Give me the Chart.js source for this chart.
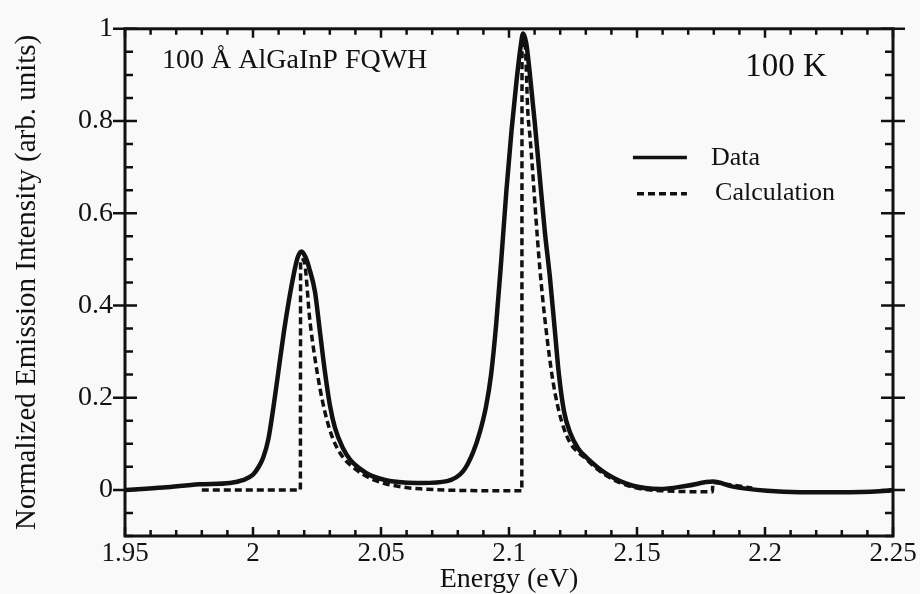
<!DOCTYPE html>
<html>
<head>
<meta charset="utf-8">
<script src="https://cdn.jsdelivr.net/npm/chart.js@4.4.1/dist/chart.umd.min.js"></script>
<style>
  html, body { margin: 0; padding: 0; background: #f8f9f8; }
</style>
</head>
<body>
<canvas id="chart" width="920" height="594"></canvas>
<script>
// Valeurs
const dataEnergy = [1.950, 1.965, 1.979, 1.991, 1.996, 2.000, 2.002, 2.004, 2.006, 2.008, 2.010, 2.012, 2.014, 2.016, 2.0175, 2.019, 2.0205, 2.022, 2.0242, 2.026, 2.028, 2.030, 2.032, 2.035, 2.038, 2.042, 2.0457, 2.052, 2.059, 2.066, 2.0758, 2.082, 2.086, 2.0887, 2.091, 2.093, 2.095, 2.097, 2.099, 2.101, 2.103, 2.1045, 2.1055, 2.1067, 2.108, 2.110, 2.112, 2.114, 2.116, 2.118, 2.1195, 2.1215, 2.1238, 2.127, 2.1305, 2.1383, 2.1484, 2.159, 2.1695, 2.1797, 2.1875, 2.2008, 2.2137, 2.2332, 2.2477, 2.250];
const dataIntensity = [0.000, 0.005, 0.012, 0.015, 0.021, 0.033, 0.048, 0.070, 0.110, 0.180, 0.260, 0.340, 0.410, 0.470, 0.505, 0.517, 0.505, 0.480, 0.430, 0.350, 0.260, 0.185, 0.135, 0.092, 0.065, 0.045, 0.032, 0.021, 0.016, 0.015, 0.019, 0.040, 0.082, 0.127, 0.180, 0.250, 0.360, 0.500, 0.650, 0.780, 0.890, 0.960, 0.990, 0.970, 0.910, 0.800, 0.680, 0.560, 0.460, 0.340, 0.250, 0.170, 0.125, 0.090, 0.069, 0.034, 0.009, 0.002, 0.009, 0.018, 0.007, -0.002, -0.005, -0.005, -0.002, 0.000];

const calcEnergy = [1.980, 2.0185, 2.0186, 2.0199, 2.0223, 2.0262, 2.030, 2.034, 2.040, 2.048, 2.0586, 2.066, 2.080, 2.105, 2.1051, 2.1062, 2.1074, 2.1082, 2.1121, 2.116, 2.1187, 2.1227, 2.1305, 2.1383, 2.1484, 2.160, 2.1795, 2.1796, 2.185, 2.195];
const calcIntensity = [0.000, 0.000, 0.500, 0.497, 0.363, 0.219, 0.130, 0.080, 0.045, 0.020, 0.006, 0.002, -0.001, -0.002, 0.975, 0.970, 0.815, 0.766, 0.477, 0.280, 0.190, 0.115, 0.065, 0.030, 0.006, -0.002, -0.004, 0.016, 0.012, 0.004];

const xTickValues = [1.95, 2, 2.05, 2.1, 2.15, 2.2, 2.25];
const xTickLabels = ['1.95', '2', '2.05', '2.1', '2.15', '2.2', '2.25'];
const yTickValues = [0, 0.2, 0.4, 0.6, 0.8, 1];
const yTickLabels = ['0', '0.2', '0.4', '0.6', '0.8', '1'];
const seriesNames = ['Data', 'Calculation'];

const serif = '"Liberation Serif", "Times New Roman", serif';
const ink = '#111';

function toPoints(xs, ys) {
    return xs.map((x, i) => ({ x: x, y: ys[i] }));
}

// cadre, graduations et légende
const framePlugin = {
    id: 'frame',
    afterDraw(chart) {
        const { ctx, chartArea: a, scales: { x, y } } = chart;
        ctx.save();
        ctx.strokeStyle = ink;
        ctx.lineWidth = 3;
        ctx.strokeRect(a.left, a.top, a.right - a.left, a.bottom - a.top);

        ctx.lineWidth = 2.5;
        ctx.beginPath();
        for (let i = 0; i <= 30; i++) {
            const px = x.getPixelForValue(1.95 + i * 0.01);
            const len = i % 5 === 0 ? 9 : 6;
            ctx.moveTo(px, a.bottom); ctx.lineTo(px, a.bottom - len);
            ctx.moveTo(px, a.top); ctx.lineTo(px, a.top + len);
        }
        for (let i = 0; i <= 22; i++) {
            const py = y.getPixelForValue(-0.1 + i * 0.05);
            if (i % 4 === 2) {
                ctx.moveTo(a.left - 12, py); ctx.lineTo(a.left + 12, py);
                ctx.moveTo(a.right - 12, py); ctx.lineTo(a.right + 12, py);
            } else {
                ctx.moveTo(a.left, py); ctx.lineTo(a.left + 8, py);
                ctx.moveTo(a.right, py); ctx.lineTo(a.right - 8, py);
            }
        }
        ctx.stroke();

        ctx.fillStyle = ink;
        ctx.textBaseline = 'alphabetic';
        ctx.font = '28px ' + serif;
        ctx.textAlign = 'left';
        ctx.fillText('100 Å AlGaInP FQWH', x.getPixelForValue(1.9645), y.getPixelForValue(0.916));
        ctx.font = '33px ' + serif;
        ctx.textAlign = 'right';
        ctx.fillText('100 K', x.getPixelForValue(2.2242), y.getPixelForValue(0.897));

        // légende
        ctx.lineWidth = 3.5;
        ctx.beginPath();
        ctx.moveTo(x.getPixelForValue(2.1484), y.getPixelForValue(0.721));
        ctx.lineTo(x.getPixelForValue(2.1695), y.getPixelForValue(0.721));
        ctx.stroke();
        ctx.setLineDash([7, 4]);
        ctx.beginPath();
        ctx.moveTo(x.getPixelForValue(2.150), y.getPixelForValue(0.642));
        ctx.lineTo(x.getPixelForValue(2.1695), y.getPixelForValue(0.642));
        ctx.stroke();
        ctx.setLineDash([]);
        ctx.font = '26px ' + serif;
        ctx.textAlign = 'left';
        ctx.fillText(seriesNames[0], x.getPixelForValue(2.1789), y.getPixelForValue(0.704));
        ctx.fillText(seriesNames[1], x.getPixelForValue(2.1805), y.getPixelForValue(0.629));
        ctx.restore();
    }
};

new Chart(document.getElementById('chart'), {
    type: 'line',
    data: {
        datasets: [{
            label: seriesNames[0],
            data: toPoints(dataEnergy, dataIntensity),
            borderColor: ink,
            borderWidth: 4.5,
            pointRadius: 0,
            cubicInterpolationMode: 'monotone',
            fill: false
        }, {
            label: seriesNames[1],
            data: toPoints(calcEnergy, calcIntensity),
            borderColor: ink,
            borderWidth: 3.5,
            borderDash: [7, 4],
            pointRadius: 0,
            cubicInterpolationMode: 'monotone',
            fill: false
        }]
    },
    options: {
        responsive: false,
        animation: false,
        events: [],
        layout: { padding: { top: 24, right: 27, left: 0, bottom: 0 } },
        plugins: { legend: { display: false }, tooltip: { enabled: false } },
        scales: {
            x: {
                type: 'linear',
                min: 1.95,
                max: 2.25,
                afterBuildTicks: (s) => { s.ticks = xTickValues.map(v => ({ value: v })); },
                afterFit: (s) => { s.height = 58; },
                grid: { display: false, drawTicks: false },
                border: { display: false },
                ticks: {
                    color: ink,
                    padding: 2,
                    maxRotation: 0,
                    font: { family: serif, size: 27 },
                    callback: (v, i) => xTickLabels[i]
                },
                title: {
                    display: true,
                    text: 'Energy (eV)',
                    color: ink,
                    padding: { top: 0, bottom: 0 },
                    font: { family: serif, size: 28, lineHeight: 1 }
                }
            },
            y: {
                min: -0.1,
                max: 1.0,
                afterBuildTicks: (s) => { s.ticks = yTickValues.map(v => ({ value: v })); },
                afterFit: (s) => { s.width = 125; },
                grid: { display: false, drawTicks: false },
                border: { display: false },
                ticks: {
                    color: ink,
                    padding: 12,
                    font: { family: serif, size: 28 },
                    callback: (v, i) => yTickLabels[i]
                },
                title: {
                    display: true,
                    text: 'Normalized Emission Intensity (arb. units)',
                    color: ink,
                    padding: { top: 13, bottom: 0 },
                    font: { family: serif, size: 29, lineHeight: 1 }
                }
            }
        }
    },
    plugins: [framePlugin]
});
</script>
</body>
</html>
